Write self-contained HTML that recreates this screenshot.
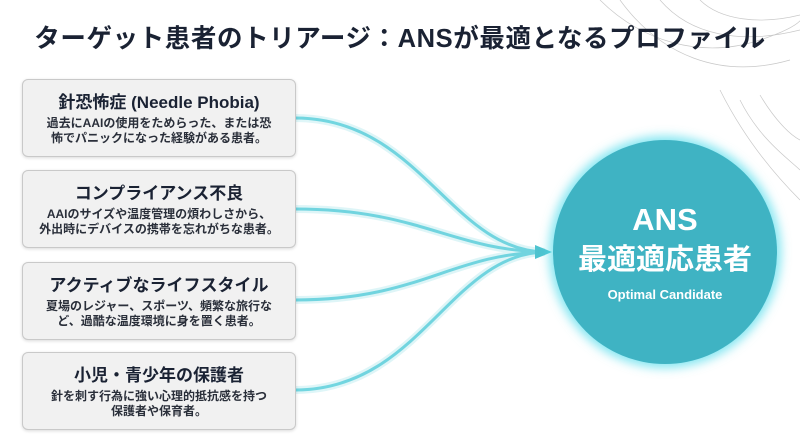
<!DOCTYPE html>
<html><head><meta charset="utf-8"><style>
body{margin:0;width:800px;height:436px;background:#fff;overflow:hidden;position:relative;font-family:"Liberation Sans","Noto Sans CJK JP",sans-serif;}
.t{position:absolute;left:0;width:800px;top:18px;text-align:center;font-size:25.5px;font-weight:bold;color:#1a2233;letter-spacing:0.6px}
.b{position:absolute;left:22px;width:272px;height:76px;background:#f1f1f1;border:1px solid #c9c9c9;border-radius:6px;box-shadow:0 1px 3px rgba(0,0,0,.15);text-align:center;color:#1a2233}
.b h3{margin:8px 0 3px;font-size:17px;font-weight:bold}
.b p{margin:0;font-size:12px;line-height:15px;font-weight:bold;color:#2a2f3a}
.c{position:absolute;left:553px;top:140px;width:224px;height:224px;border-radius:50%;background:#3fb3c3;box-shadow:0 0 10px 4px rgba(80,220,235,.7);text-align:center;color:#fff}
</style></head><body>
<svg width="800" height="436" style="position:absolute;left:0;top:0">
<g fill="none" stroke="#c8c8c8" stroke-width="0.7">
<path d="M600 0 C640 40 700 60 760 40 S800 10 800 10"/>
<path d="M620 0 C660 55 720 80 790 60"/>
<path d="M660 0 C690 35 740 45 800 30"/>
<path d="M700 0 C720 20 760 25 800 15"/>
<path d="M740 100 C760 140 790 160 800 170"/>
<path d="M720 90 C750 150 790 190 800 200"/>
<path d="M760 95 C775 120 790 135 800 140"/>
</g>
<g fill="none" stroke="#5fd0dc" stroke-width="3" opacity="0.85">
<path d="M295 118 C420 118 450 250 545 252"/>
<path d="M295 209 C420 209 450 250 545 252"/>
<path d="M295 300 C420 300 450 254 545 252"/>
<path d="M295 390 C420 390 450 254 545 252"/>
</g>
<g fill="none" stroke="#5fd0dc" stroke-width="8" opacity="0.2">
<path d="M295 118 C420 118 450 250 545 252"/>
<path d="M295 209 C420 209 450 250 545 252"/>
<path d="M295 300 C420 300 450 254 545 252"/>
<path d="M295 390 C420 390 450 254 545 252"/>
</g>
<polygon points="535,245 552,252 535,259" fill="#4fc3cf"/>
</svg>
<div class="t">ターゲット患者のトリアージ：ANSが最適となるプロファイル</div>
<div class="b" style="top:79px"><h3>針恐怖症 (Needle Phobia)</h3><p>過去にAAIの使用をためらった、または恐<br>怖でパニックになった経験がある患者。</p></div>
<div class="b" style="top:170px"><h3>コンプライアンス不良</h3><p>AAIのサイズや温度管理の煩わしさから、<br>外出時にデバイスの携帯を忘れがちな患者。</p></div>
<div class="b" style="top:262px"><h3>アクティブなライフスタイル</h3><p>夏場のレジャー、スポーツ、頻繁な旅行な<br>ど、過酷な温度環境に身を置く患者。</p></div>
<div class="b" style="top:352px"><h3>小児・青少年の保護者</h3><p>針を刺す行為に強い心理的抵抗感を持つ<br>保護者や保育者。</p></div>
<div class="c"><div style="margin-top:62px;font-size:31px;font-weight:bold;line-height:36px">ANS</div><div style="font-size:29px;font-weight:bold;line-height:40px;margin-top:2px">最適適応患者</div><div style="font-size:13px;font-weight:bold;margin-top:7px">Optimal Candidate</div></div>
</body></html>
